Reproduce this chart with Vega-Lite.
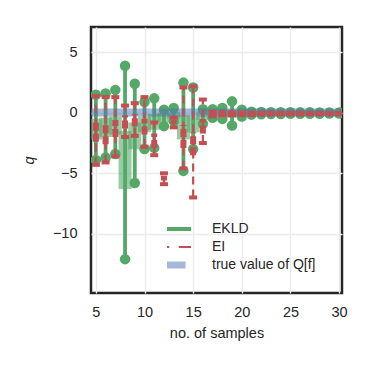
{
  "$schema": "https://vega.github.io/schema/vega-lite/v6.json",
  "width": 251,
  "height": 266,
  "autosize": {"type": "none"},
  "padding": {"left": 91, "top": 27, "right": 31, "bottom": 80},
  "config": {
    "font": "Liberation Sans",
    "view": {"stroke": "#262626", "strokeWidth": 2.5},
    "axis": {
      "domain": false,
      "ticks": false,
      "grid": true,
      "gridColor": "#ebebeb",
      "gridWidth": 1.4,
      "labelFont": "Liberation Sans",
      "labelFontSize": 14.5,
      "labelColor": "#262626",
      "titleFont": "Liberation Sans",
      "titleFontSize": 14.5,
      "titleFontWeight": "normal",
      "titleColor": "#262626"
    }
  },
  "datasets": {
    "runs": [
      {"n": 5, "method": "EKLD", "lo": -3.9, "hi": 1.5, "ilo": -2.2, "ihi": -0.5},
      {"n": 6, "method": "EKLD", "lo": -3.7, "hi": 1.6, "ilo": -2.0, "ihi": -0.4},
      {"n": 7, "method": "EKLD", "lo": -3.4, "hi": 1.9, "ilo": -1.8, "ihi": -0.3},
      {"n": 8, "method": "EKLD", "lo": -12.1, "hi": 3.9, "ilo": -6.3, "ihi": -1.5},
      {"n": 9, "method": "EKLD", "lo": -5.8, "hi": 2.4, "ilo": -3.0, "ihi": -0.8},
      {"n": 10, "method": "EKLD", "lo": -3.0, "hi": 0.9, "ilo": -1.6, "ihi": -0.3},
      {"n": 11, "method": "EKLD", "lo": -2.9, "hi": 1.2, "ilo": -1.4, "ihi": -0.1},
      {"n": 12, "method": "EKLD", "lo": -1.1, "hi": 0.25, "ilo": -0.8, "ihi": 0.0},
      {"n": 13, "method": "EKLD", "lo": -0.7, "hi": 0.4, "ilo": -0.5, "ihi": 0.1},
      {"n": 14, "method": "EKLD", "lo": -4.8, "hi": 2.5, "ilo": -2.2, "ihi": -0.2},
      {"n": 15, "method": "EKLD", "lo": -3.0, "hi": 2.1, "ilo": -1.6, "ihi": -0.3},
      {"n": 16, "method": "EKLD", "lo": -0.9, "hi": 0.3, "ilo": -0.6, "ihi": 0.1},
      {"n": 17, "method": "EKLD", "lo": -0.4, "hi": 0.3, "ilo": -0.2, "ihi": 0.1},
      {"n": 18, "method": "EKLD", "lo": -0.5, "hi": 0.4, "ilo": -0.3, "ihi": 0.2},
      {"n": 19, "method": "EKLD", "lo": -1.05, "hi": 0.95, "ilo": -0.4, "ihi": 0.3},
      {"n": 20, "method": "EKLD", "lo": -0.3, "hi": 0.25, "ilo": -0.15, "ihi": 0.1},
      {"n": 21, "method": "EKLD", "lo": -0.15, "hi": 0.1, "ilo": -0.1, "ihi": 0.05},
      {"n": 22, "method": "EKLD", "lo": -0.12, "hi": 0.08, "ilo": -0.08, "ihi": 0.04},
      {"n": 23, "method": "EKLD", "lo": -0.1, "hi": 0.06, "ilo": -0.07, "ihi": 0.03},
      {"n": 24, "method": "EKLD", "lo": -0.1, "hi": 0.05, "ilo": -0.06, "ihi": 0.02},
      {"n": 25, "method": "EKLD", "lo": -0.08, "hi": 0.05, "ilo": -0.05, "ihi": 0.02},
      {"n": 26, "method": "EKLD", "lo": -0.08, "hi": 0.04, "ilo": -0.05, "ihi": 0.02},
      {"n": 27, "method": "EKLD", "lo": -0.07, "hi": 0.04, "ilo": -0.04, "ihi": 0.01},
      {"n": 28, "method": "EKLD", "lo": -0.07, "hi": 0.03, "ilo": -0.04, "ihi": 0.01},
      {"n": 29, "method": "EKLD", "lo": -0.06, "hi": 0.03, "ilo": -0.03, "ihi": 0.01},
      {"n": 30, "method": "EKLD", "lo": -0.06, "hi": 0.03, "ilo": -0.03, "ihi": 0.01},
      {"n": 5, "method": "EI", "lo": -4.3, "hi": 1.4, "ilo": -2.4, "ihi": -0.8},
      {"n": 6, "method": "EI", "lo": -4.1, "hi": 1.3, "ilo": -2.6, "ihi": -0.9},
      {"n": 7, "method": "EI", "lo": -3.6, "hi": 1.3, "ilo": -2.0, "ihi": -0.6},
      {"n": 8, "method": "EI", "lo": -2.0, "hi": 0.6, "ilo": -1.3, "ihi": -0.2},
      {"n": 9, "method": "EI", "lo": -1.9, "hi": 0.8, "ilo": -1.1, "ihi": -0.1},
      {"n": 10, "method": "EI", "lo": -2.8, "hi": 1.3, "ilo": -1.8, "ihi": -0.5},
      {"n": 11, "method": "EI", "lo": -3.5, "hi": -0.8, "ilo": -2.9, "ihi": -1.7},
      {"n": 12, "method": "EI", "lo": -5.9, "hi": -5.0, "ilo": -5.6, "ihi": -5.2},
      {"n": 13, "method": "EI", "lo": -1.2, "hi": -0.4, "ilo": -0.9, "ihi": -0.6},
      {"n": 14, "method": "EI", "lo": -4.6, "hi": 2.1, "ilo": -2.9, "ihi": -1.0},
      {"n": 15, "method": "EI", "lo": -7.0, "hi": 2.2, "ilo": -3.5, "ihi": -1.6},
      {"n": 16, "method": "EI", "lo": -2.5, "hi": 1.1, "ilo": -1.7, "ihi": -0.5},
      {"n": 17, "method": "EI", "lo": -0.3, "hi": 0.1, "ilo": -0.2, "ihi": 0.0},
      {"n": 18, "method": "EI", "lo": -0.2, "hi": 0.05, "ilo": -0.12, "ihi": -0.02},
      {"n": 19, "method": "EI", "lo": -0.2, "hi": 0.05, "ilo": -0.12, "ihi": -0.02},
      {"n": 20, "method": "EI", "lo": -0.18, "hi": 0.04, "ilo": -0.12, "ihi": -0.02},
      {"n": 21, "method": "EI", "lo": -0.16, "hi": 0.02, "ilo": -0.11, "ihi": -0.03},
      {"n": 22, "method": "EI", "lo": -0.15, "hi": 0.02, "ilo": -0.11, "ihi": -0.03},
      {"n": 23, "method": "EI", "lo": -0.14, "hi": 0.02, "ilo": -0.1, "ihi": -0.03},
      {"n": 24, "method": "EI", "lo": -0.14, "hi": 0.01, "ilo": -0.1, "ihi": -0.04},
      {"n": 25, "method": "EI", "lo": -0.13, "hi": 0.01, "ilo": -0.1, "ihi": -0.04},
      {"n": 26, "method": "EI", "lo": -0.13, "hi": 0.01, "ilo": -0.1, "ihi": -0.04},
      {"n": 27, "method": "EI", "lo": -0.12, "hi": 0.0, "ilo": -0.09, "ihi": -0.04},
      {"n": 28, "method": "EI", "lo": -0.12, "hi": 0.0, "ilo": -0.09, "ihi": -0.04},
      {"n": 29, "method": "EI", "lo": -0.12, "hi": 0.0, "ilo": -0.09, "ihi": -0.04},
      {"n": 30, "method": "EI", "lo": -0.12, "hi": 0.0, "ilo": -0.09, "ihi": -0.04}
    ],
    "truth": [
      {"n": 4.5, "method": "true value of Q[f]", "lo": -0.3, "hi": 0.35},
      {"n": 30.3, "method": "true value of Q[f]", "lo": -0.3, "hi": 0.35}
    ]
  },
  "encoding": {
    "x": {
      "field": "n", "type": "quantitative",
      "scale": {"domain": [4.5, 30.3], "nice": false, "zero": false},
      "axis": {"values": [5, 10, 15, 20, 25, 30], "title": "no. of samples", "labelPadding": 12, "titlePadding": 8}
    },
    "color": {
      "field": "method", "type": "nominal",
      "scale": {"domain": ["EKLD", "EI", "true value of Q[f]"], "range": ["#55a868", "#c44e52", "#4c72b0"]},
      "legend": {
        "title": null,
        "orient": "none",
        "legendX": 76,
        "legendY": 195,
        "padding": 0,
        "labelFont": "Liberation Sans",
        "labelFontSize": 14,
        "labelColor": "#262626",
        "labelOffset": 31,
        "rowPadding": 4,
        "clipHeight": 14,
        "symbolSize": 1156,
        "symbolOpacity": 1,
        "symbolStrokeWidth": 3.5,
        "symbolDash": [100, 0],
        "encode": {
          "symbols": {
            "update": {
              "shape": {"signal": "datum.value === 'true value of Q[f]' ? 'M-0.68,-0.2H0.68V0.2H-0.68Z' : (datum.value === 'EI' ? 'M-1,0H-0.28M0.28,0H1' : 'M-1,0H1')"},
              "fillOpacity": {"signal": "datum.value === 'true value of Q[f]' ? 0.5 : 0"},
              "strokeOpacity": {"signal": "datum.value === 'true value of Q[f]' ? 0 : 1"},
              "strokeDash": {"value": [100, 0]},
              "strokeWidth": {"signal": "datum.value === 'EI' ? 2.2 : 3.8"}
            }
          }
        }
      }
    }
  },
  "layer": [
    {
      "data": {"name": "runs"},
      "transform": [{"filter": "datum.method === 'EKLD'"}],
      "mark": {"type": "rule", "strokeWidth": 13, "opacity": 0.6, "strokeCap": "butt", "clip": true},
      "encoding": {
        "y": {"field": "ilo", "type": "quantitative",
          "scale": {"domain": [-14.9, 7.1], "nice": false, "zero": false},
          "axis": {"values": [-10, -5, 0, 5], "title": "q", "titleFontStyle": "italic", "labelPadding": 14, "titlePadding": 16, "labelExpr": "replace(datum.label, '-', '−')"}},
        "y2": {"field": "ihi"}
      }
    },
    {
      "data": {"name": "runs"},
      "transform": [{"filter": "datum.method === 'EKLD'"}],
      "mark": {"type": "rule", "strokeWidth": 3.8, "clip": true},
      "encoding": {
        "y": {"field": "lo", "type": "quantitative"},
        "y2": {"field": "hi"}
      }
    },
    {
      "data": {"name": "runs"},
      "transform": [{"filter": "datum.method === 'EKLD'"}],
      "mark": {"type": "point", "shape": "circle", "filled": true, "size": 110, "opacity": 1, "clip": true},
      "encoding": {
        "y": {"field": "lo", "type": "quantitative"}
      }
    },
    {
      "data": {"name": "runs"},
      "transform": [{"filter": "datum.method === 'EKLD'"}],
      "mark": {"type": "point", "shape": "circle", "filled": true, "size": 110, "opacity": 1, "clip": true},
      "encoding": {
        "y": {"field": "hi", "type": "quantitative"}
      }
    },
    {
      "data": {"name": "truth"},
      "mark": {"type": "area", "opacity": 0.5, "clip": true},
      "encoding": {
        "y": {"field": "lo", "type": "quantitative"},
        "y2": {"field": "hi"}
      }
    },
    {
      "data": {"name": "runs"},
      "transform": [{"filter": "datum.method === 'EI'"}],
      "mark": {"type": "rule", "strokeWidth": 2.2, "strokeDash": [8, 5], "clip": true},
      "encoding": {
        "y": {"field": "lo", "type": "quantitative"},
        "y2": {"field": "hi"}
      }
    },
    {
      "data": {"name": "runs"},
      "transform": [{"filter": "datum.method === 'EI'"}],
      "mark": {"type": "rule", "strokeWidth": 6, "strokeDash": [8, 3], "clip": true},
      "encoding": {
        "y": {"field": "ilo", "type": "quantitative"},
        "y2": {"field": "ihi"}
      }
    },
    {
      "data": {"name": "runs"},
      "transform": [{"filter": "datum.method === 'EI'"}],
      "mark": {"type": "point", "shape": "M-1,-0.5H1V0.5H-1Z", "filled": true, "size": 64, "opacity": 1, "clip": true},
      "encoding": {
        "y": {"field": "lo", "type": "quantitative"}
      }
    },
    {
      "data": {"name": "runs"},
      "transform": [{"filter": "datum.method === 'EI'"}],
      "mark": {"type": "point", "shape": "M-1,-0.5H1V0.5H-1Z", "filled": true, "size": 64, "opacity": 1, "clip": true},
      "encoding": {
        "y": {"field": "hi", "type": "quantitative"}
      }
    }
  ]
}
